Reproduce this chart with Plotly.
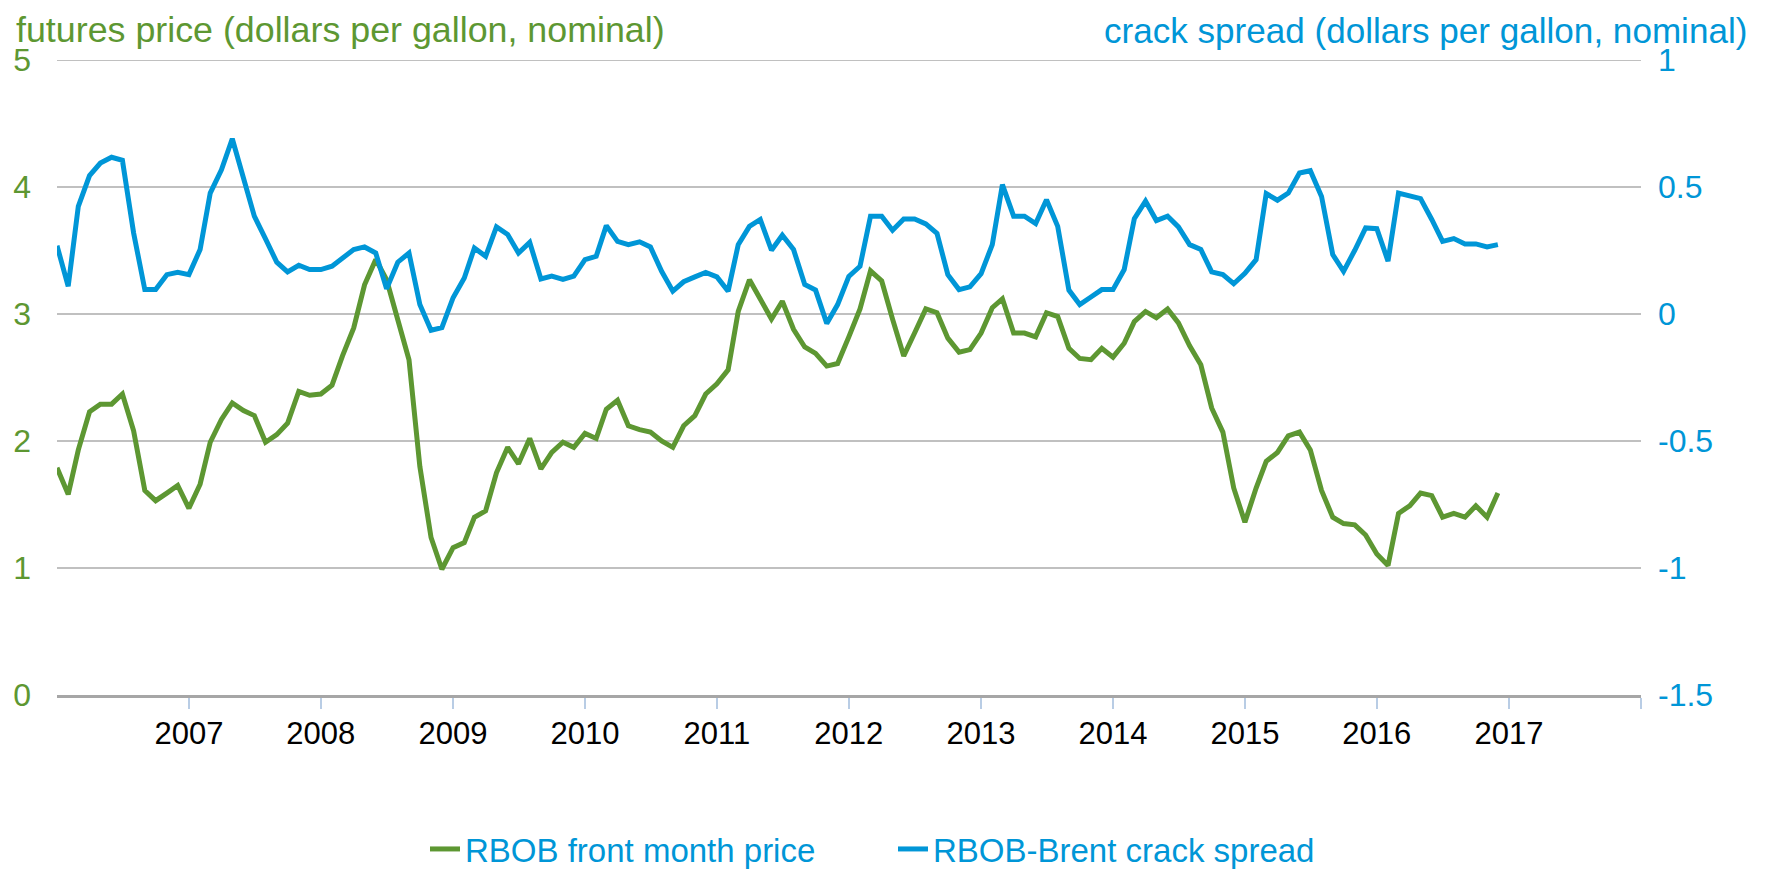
import pandas as pd
import plotly.graph_objects as go

# Monthly dates, Jan 2006 - Dec 2016
months = pd.date_range("2006-01-01", "2016-12-01", freq="MS")

# RBOB front month price (dollars per gallon)
rbob_price = [
    1.79, 1.58, 1.93, 2.23, 2.29, 2.29, 2.37, 2.08, 1.61, 1.53, 1.59, 1.65,
    1.47, 1.66, 1.99, 2.17, 2.30, 2.24, 2.20, 1.99, 2.05, 2.14, 2.39, 2.36,
    2.37, 2.44, 2.67, 2.89, 3.23, 3.43, 3.27, 2.94, 2.64, 1.80, 1.24, 0.99,
    1.16, 1.20, 1.40, 1.45, 1.75, 1.95, 1.82, 2.02, 1.78, 1.91, 1.99, 1.95,
    2.06, 2.02, 2.25, 2.32, 2.12, 2.09, 2.07, 2.00, 1.95, 2.12, 2.20, 2.37,
    2.45, 2.56, 3.02, 3.27, 3.11, 2.96, 3.10, 2.88, 2.74, 2.69, 2.59, 2.61,
    2.82, 3.04, 3.34, 3.26, 2.96, 2.67, 2.85, 3.04, 3.01, 2.81, 2.70, 2.72,
    2.85, 3.05, 3.12, 2.85, 2.85, 2.82, 3.01, 2.98, 2.73, 2.65, 2.64, 2.73,
    2.66, 2.77, 2.94, 3.02, 2.97, 3.04, 2.93, 2.75, 2.60, 2.26, 2.07, 1.63,
    1.36, 1.63, 1.84, 1.91, 2.04, 2.07, 1.93, 1.61, 1.40, 1.35, 1.34, 1.26,
    1.11, 1.02, 1.43, 1.49, 1.59, 1.57, 1.40, 1.43, 1.40, 1.49, 1.40, 1.59,
]

# RBOB-Brent crack spread (dollars per gallon)
crack_spread = [
    0.269, 0.109, 0.424, 0.545, 0.594, 0.617, 0.605, 0.319, 0.096, 0.096, 0.155, 0.164,
    0.155, 0.254, 0.476, 0.568, 0.690, 0.542, 0.385, 0.296, 0.204, 0.166, 0.192, 0.175,
    0.175, 0.188, 0.218, 0.254, 0.264, 0.240, 0.099, 0.204, 0.240, 0.037, -0.064, -0.054,
    0.064, 0.142, 0.260, 0.227, 0.343, 0.313, 0.240, 0.282, 0.138, 0.149, 0.136, 0.149,
    0.214, 0.227, 0.348, 0.286, 0.273, 0.284, 0.264, 0.168, 0.090, 0.127, 0.146, 0.164,
    0.146, 0.090, 0.273, 0.345, 0.372, 0.251, 0.310, 0.254, 0.116, 0.094, -0.037, 0.037,
    0.148, 0.188, 0.385, 0.385, 0.330, 0.374, 0.374, 0.355, 0.317, 0.155, 0.096, 0.107,
    0.159, 0.273, 0.509, 0.385, 0.385, 0.356, 0.450, 0.345, 0.094, 0.037, 0.067, 0.096,
    0.096, 0.175, 0.375, 0.444, 0.368, 0.385, 0.343, 0.273, 0.254, 0.166, 0.155, 0.119,
    0.160, 0.214, 0.474, 0.448, 0.476, 0.555, 0.564, 0.463, 0.234, 0.168, 0.251, 0.339,
    0.336, 0.208, 0.476, 0.467, 0.454, 0.372, 0.286, 0.297, 0.276, 0.276, 0.264, 0.273,
]

year_ticks = ["2007-01-01", "2008-01-01", "2009-01-01", "2010-01-01", "2011-01-01",
              "2012-01-01", "2013-01-01", "2014-01-01", "2015-01-01", "2016-01-01",
              "2017-01-01", "2018-01-01"]
year_labels = ["2007", "2008", "2009", "2010", "2011", "2012", "2013", "2014",
               "2015", "2016", "2017", ""]
left_ticks = [0, 1, 2, 3, 4, 5]
right_ticks = [-1.5, -1, -0.5, 0, 0.5, 1]
right_labels = ["-1.5", "-1", "-0.5", "0", "0.5", "1"]

GREEN = "#5d9732"
BLUE = "#0096d7"
GRID = "#c0c0c0"
FONT = "Liberation Sans, Arial, sans-serif"

fig = go.Figure()
fig.add_trace(go.Scatter(x=months, y=rbob_price, mode="lines",
                         name="RBOB front month price",
                         line=dict(color=GREEN, width=5)))
fig.add_trace(go.Scatter(x=months, y=crack_spread, mode="lines",
                         name="RBOB-Brent crack spread", yaxis="y2",
                         line=dict(color=BLUE, width=5)))

# figure sits inside the page body (8 px default margin)
W, H = 1765, 863
L, R, T, B = 49, 132, 52, 176
pw, ph = W - L - R, H - T - B
base = H - B  # pixel y of plot bottom in figure coords

fig.update_layout(
    width=W, height=H,
    margin=dict(l=L, r=R, t=T, b=B, autoexpand=False),
    paper_bgcolor="white", plot_bgcolor="white",
    font=dict(family=FONT),
    showlegend=True,
    legend=dict(orientation="h", x=(417 - L) / pw, xanchor="left",
                y=(base - 841) / ph, yanchor="middle",
                font=dict(size=33, color=BLUE, family=FONT),
                bgcolor="rgba(0,0,0,0)", entrywidth=423, entrywidthmode="pixels"),
    xaxis=dict(type="date", range=["2006-01-01", "2018-01-01"],
               tickmode="array", tickvals=year_ticks, ticktext=year_labels,
               ticks="outside", ticklen=11, tickwidth=2, tickcolor="#b9cde5",
               showline=True, linecolor="#a6a6a6", linewidth=2.5,
               showgrid=False, zeroline=False,
               tickfont=dict(size=31, color="black", family=FONT),
               ticklabelstandoff=-2),
    yaxis=dict(range=[0, 5], tickmode="array", tickvals=left_ticks,
               ticktext=[str(v) for v in left_ticks],
               showgrid=True, gridcolor=GRID, gridwidth=2,
               zeroline=False, showline=False, ticks="",
               tickfont=dict(size=32, color=GREEN, family=FONT),
               ticklabelstandoff=25),
    yaxis2=dict(range=[-1.5, 1], overlaying="y", side="right",
                tickmode="array", tickvals=right_ticks, ticktext=right_labels,
                showgrid=False, zeroline=False, showline=False, ticks="",
                tickfont=dict(size=32, color=BLUE, family=FONT),
                ticklabelstandoff=16),
    shapes=[dict(type="line", xref="paper", x0=0, x1=1, yref="y", y0=5, y1=5,
                 line=dict(color=GRID, width=2), layer="below")],
    annotations=[
        dict(text="futures price (dollars per gallon, nominal)",
             xref="paper", yref="paper", x=(6 - L) / pw, y=(base - 22) / ph,
             xanchor="left", yanchor="middle", showarrow=False,
             font=dict(size=35.8, color=GREEN, family=FONT)),
        dict(text="crack spread (dollars per gallon, nominal)",
             xref="paper", yref="paper", x=(1741 - L) / pw, y=(base - 22) / ph,
             xanchor="right", yanchor="middle", showarrow=False,
             font=dict(size=35.1, color=BLUE, family=FONT)),
    ],
)

fig.write_html("out.html")
